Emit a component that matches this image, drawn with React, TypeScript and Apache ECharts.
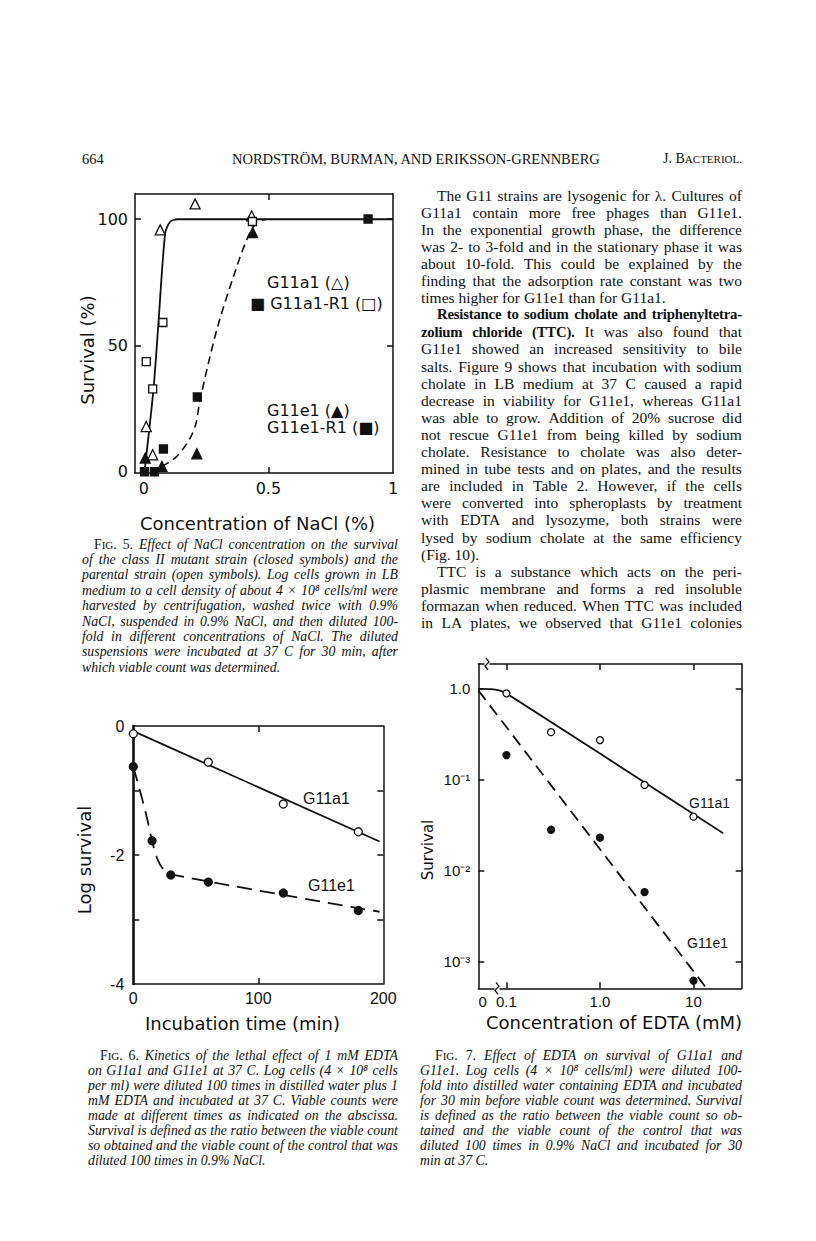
import React, { useEffect, useRef } from "react";
import * as echarts from "echarts";

// ---------------- DATA ----------------
// Fig. 5 : survival (%) vs NaCl concentration (%)
const fig5_G11a1_openTri: [number, number][] = [[0.01, 17.9], [0.036, 6.7], [0.066, 95.8], [0.206, 106.1], [0.433, 101.3]];
const fig5_G11a1R1_openSq: [number, number][] = [[0.01, 43.6], [0.036, 32.8], [0.077, 59.1], [0.436, 99.1]];
const fig5_G11e1_fillTri: [number, number][] = [[0.006, 5.4], [0.073, 2.1], [0.213, 7.1], [0.437, 94.7]];
const fig5_G11e1R1_fillSq: [number, number][] = [[0.003, 0], [0.043, 0], [0.079, 9.0], [0.215, 29.6], [0.9, 100.1]];
const fig5_curveParent: [number, number][] = [[0.003, 0], [0.039, 32.5], [0.059, 58.8], [0.086, 94.5], [0.106, 99], [0.135, 100], [1.0, 100]];
const fig5_curveMutant: [number, number][] = [[0.073, 2.1], [0.133, 6.1], [0.186, 13.3], [0.21, 19.3], [0.226, 28.5], [0.293, 56.2], [0.36, 77.3], [0.413, 91.8], [0.453, 98.7], [0.494, 100]];
const fig5_xLabels = [0, 0.5, 1];
const fig5_yLabels = [0, 50, 100];

// Fig. 6 : log survival vs incubation time (min)
const fig6_time_G11a1 = [0, 60, 120, 180];
const fig6_log_G11a1 = [-0.12, -0.56, -1.21, -1.64];
const fig6_time_G11e1 = [0, 15, 30, 60, 120, 180];
const fig6_log_G11e1 = [-0.63, -1.78, -2.31, -2.42, -2.59, -2.86];
const fig6_fit_G11a1: [number, number][] = [[0, -0.08], [197, -1.79]];
const fig6_fit_G11e1: [number, number][] = [[0, -0.63], [5, -0.98], [10, -1.35], [14.7, -1.75], [19, -2.05], [24, -2.22], [30, -2.3], [197, -2.88]];
const fig6_xLabels = [0, 100, 200];
const fig6_yLabels = [-4, -2, 0];

// Fig. 7 : survival vs EDTA concentration (mM), log-log
const fig7_edta = [0.1, 0.3, 1, 3, 10];
const fig7_surv_G11a1 = [0.88, 0.33, 0.27, 0.087, 0.039];
const fig7_surv_G11e1 = [0.185, 0.028, 0.023, 0.0058, 0.00062];
const fig7_curve_G11a1: [number, number][] = [[0.05, 0.985], [0.068, 0.98], [0.085, 0.945], [0.1, 0.88], [20.8, 0.0256]];
const fig7_curve_G11e1: [number, number][] = [[0.05, 0.95], [13.8, 0.00051]];
const fig7_xRange = [0.05, 32.8];
const fig7_yRange = [0.00051, 1.848];
const fig7_zeroPos = 0.0556; // where the broken axis puts "0"
const fig7_xTicks = [0.1, 1, 10];
const fig7_yTicks = [0.001, 0.01, 0.1, 1];

// ---------------- TEXT ----------------
const bodyLines = [
  "The G11 strains are lysogenic for λ. Cultures of",
  "G11a1 contain more free phages than G11e1.",
  "In the exponential growth phase, the difference",
  "was 2- to 3-fold and in the stationary phase it was",
  "about 10-fold. This could be explained by the",
  "finding that the adsorption rate constant was two",
  "times higher for G11e1 than for G11a1.",
  "Resistance to sodium cholate and triphenyltetra-",
  "zolium chloride (TTC). It was also found that",
  "G11e1 showed an increased sensitivity to bile",
  "salts. Figure 9 shows that incubation with sodium",
  "cholate in LB medium at 37 C caused a rapid",
  "decrease in viability for G11e1, whereas G11a1",
  "was able to grow. Addition of 20% sucrose did",
  "not rescue G11e1 from being killed by sodium",
  "cholate. Resistance to cholate was also deter-",
  "mined in tube tests and on plates, and the results",
  "are included in Table 2. However, if the cells",
  "were converted into spheroplasts by treatment",
  "with EDTA and lysozyme, both strains were",
  "lysed by sodium cholate at the same efficiency",
  "(Fig. 10).",
  "TTC is a substance which acts on the peri-",
  "plasmic membrane and forms a red insoluble",
  "formazan when reduced. When TTC was included",
  "in LA plates, we observed that G11e1 colonies",
];
const bodyIndent = [0, 7, 22];
const bodyLast = [6, 21];
const bodyBold: Record<number, number> = { 7: 99, 8: 3 };

const cap5 = [
  "FIG. 5. Effect of NaCl concentration on the survival",
  "of the class II mutant strain (closed symbols) and the",
  "parental strain (open symbols). Log cells grown in LB",
  "medium to a cell density of about 4 × 10⁸ cells/ml were",
  "harvested by centrifugation, washed twice with 0.9%",
  "NaCl, suspended in 0.9% NaCl, and then diluted 100-",
  "fold in different concentrations of NaCl. The diluted",
  "suspensions were incubated at 37 C for 30 min, after",
  "which viable count was determined.",
];
const cap6 = [
  "FIG. 6. Kinetics of the lethal effect of 1 mM EDTA",
  "on G11a1 and G11e1 at 37 C. Log cells (4 × 10⁸ cells",
  "per ml) were diluted 100 times in distilled water plus 1",
  "mM EDTA and incubated at 37 C. Viable counts were",
  "made at different times as indicated on the abscissa.",
  "Survival is defined as the ratio between the viable count",
  "so obtained and the viable count of the control that was",
  "diluted 100 times in 0.9% NaCl.",
];
const cap7 = [
  "FIG. 7. Effect of EDTA on survival of G11a1 and",
  "G11e1. Log cells (4 × 10⁸ cells/ml) were diluted 100-",
  "fold into distilled water containing EDTA and incubated",
  "for 30 min before viable count was determined. Survival",
  "is defined as the ratio between the viable count so ob-",
  "tained and the viable count of the control that was",
  "diluted 100 times in 0.9% NaCl and incubated for 30",
  "min at 37 C.",
];

// ---------------- STYLE ----------------
const INK = "#111111";
const SERIF = '"Liberation Serif", "Times New Roman", serif';
const SANS = '"DejaVu Sans", sans-serif';
const ARIAL = '"Liberation Sans", Arial, sans-serif';

const lg = (v: number) => Math.log10(v);

function xAx(grid: number, position: "top" | "bottom", min: number, max: number, ticks: number[], labels: number[] | null, fmt?: (v: number) => string, font?: { f: string; s: number; m: number }) {
  return {
    type: "value", gridIndex: grid, position, min, max,
    axisLine: { show: true, onZero: false, lineStyle: { color: INK, width: 1.5 } },
    axisTick: { show: ticks.length > 0, inside: true, length: 6, customValues: ticks, lineStyle: { color: INK, width: 1.5 } },
    axisLabel: labels
      ? { show: true, customValues: labels, formatter: fmt, fontFamily: font!.f, fontSize: font!.s, color: INK, margin: font!.m, showMinLabel: true, showMaxLabel: true }
      : { show: false },
    splitLine: { show: false },
  };
}
function yAx(grid: number, position: "left" | "right", min: number, max: number, ticks: number[], labels: number[] | null, fmt?: (v: number) => string, font?: { f: string; s: number; m: number }, lw = 1.5) {
  return {
    type: "value", gridIndex: grid, position, min, max,
    axisLine: { show: true, onZero: false, lineStyle: { color: INK, width: lw } },
    axisTick: { show: ticks.length > 0, inside: true, length: 6, customValues: ticks, lineStyle: { color: INK, width: 1.5 } },
    axisLabel: labels
      ? { show: true, customValues: labels, formatter: fmt, fontFamily: font!.f, fontSize: font!.s, color: INK, margin: font!.m, showMinLabel: true, showMaxLabel: true }
      : { show: false },
    splitLine: { show: false },
  };
}

function txt(text: string, x: number, y: number, font: string, align = "left", rot = 0) {
  return {
    type: "text", x, y, rotation: rot, silent: true, z: 20,
    style: { text, font, fill: INK, align, verticalAlign: "middle", textAlign: align, textVerticalAlign: "middle" },
  };
}
function brk(x: number, y: number) {
  return [
    { type: "rect", shape: { x: x - 2.5, y: y - 2, width: 5, height: 4 }, style: { fill: "#fff" }, silent: true, z: 15 },
    { type: "polyline", shape: { points: [[x - 1, y - 6], [x + 2, y - 2], [x - 2, y + 2], [x + 1, y + 6]] }, style: { stroke: INK, lineWidth: 1.3, fill: "none" }, silent: true, z: 16 },
  ];
}

function supMinus(n: number) {
  const m: Record<string, string> = { "1": "¹", "2": "²", "3": "³" };
  return "⁻" + m[String(Math.abs(n))];
}

function buildOption() {
  const f5 = { f: SANS, s: 16, m: 7 };
  const f6 = { f: ARIAL, s: 16, m: 6 };
  const f7 = { f: ARIAL, s: 15, m: 6 };
  const lineBase = { type: "line", symbol: "none", showSymbol: false, z: 2, silent: true };
  const sc = (xi: number, data: number[][], symbol: string, size: number, filled: boolean) => ({
    type: "scatter", xAxisIndex: xi, yAxisIndex: xi, data, symbol, symbolSize: size, clip: false, z: 5, silent: true,
    itemStyle: { color: filled ? INK : "#fff", borderColor: INK, borderWidth: 1.3, opacity: 1 },
  });

  return {
    animation: false,
    backgroundColor: "transparent",
    grid: [
      { left: 135, top: 194, width: 258, height: 279, containLabel: false, outerBoundsMode: "none" },
      { left: 133.3, top: 726, width: 250, height: 258, containLabel: false, outerBoundsMode: "none" },
      { left: 478.3, top: 664, width: 263.4, height: 324.3, containLabel: false, outerBoundsMode: "none" },
    ],
    xAxis: [
      xAx(0, "bottom", -0.035, 1, [0.5], fig5_xLabels, (v) => String(v), f5),
      xAx(0, "top", -0.035, 1, [0.5], null),
      xAx(1, "bottom", 0, 200, [100], fig6_xLabels, (v) => String(v), f6),
      xAx(1, "top", 0, 200, [100], null),
      xAx(2, "bottom", lg(fig7_xRange[0]), lg(fig7_xRange[1]), fig7_xTicks.map(lg), [lg(fig7_zeroPos), ...fig7_xTicks.map(lg)],
        (v) => (Math.abs(v - lg(fig7_zeroPos)) < 1e-3 ? "0" : Math.abs(v + 1) < 1e-6 ? "0.1" : Math.abs(v) < 1e-6 ? "1.0" : "10"), f7),
      xAx(2, "top", lg(fig7_xRange[0]), lg(fig7_xRange[1]), fig7_xTicks.map(lg), null),
    ],
    yAxis: [
      yAx(0, "left", -0.5, 110, [50, 100], fig5_yLabels, (v) => String(v), f5),
      yAx(0, "right", -0.5, 110, [50, 100], null),
      yAx(1, "left", -4, 0, [-3, -2, -1], fig6_yLabels, (v) => (v === 0 ? "0" : "-" + Math.abs(v)), { f: ARIAL, s: 16, m: 9 }, 2.6),
      yAx(1, "right", -4, 0, [-3, -2, -1], null),
      yAx(2, "left", lg(fig7_yRange[0]), lg(fig7_yRange[1]), fig7_yTicks.map(lg), fig7_yTicks.map(lg),
        (v) => (Math.abs(v) < 1e-6 ? "1.0" : "10" + supMinus(Math.round(v))), { f: ARIAL, s: 15, m: 8 }),
      yAx(2, "right", lg(fig7_yRange[0]), lg(fig7_yRange[1]), fig7_yTicks.map(lg), null),
    ],
    series: [
      // Fig 5
      { ...lineBase, name: "parent curve", xAxisIndex: 0, yAxisIndex: 0, smooth: 0.25, data: fig5_curveParent, lineStyle: { color: INK, width: 1.8 } },
      { ...lineBase, name: "mutant curve", xAxisIndex: 0, yAxisIndex: 0, smooth: 0.3, data: fig5_curveMutant, lineStyle: { color: INK, width: 1.6, type: [8, 5] } },
      { ...sc(0, fig5_G11a1_openTri, "triangle", 10, false), name: "G11a1 (△)" },
      { ...sc(0, fig5_G11a1R1_openSq, "rect", 8, false), name: "G11a1-R1 (□)" },
      { ...sc(0, fig5_G11e1_fillTri, "triangle", 10, true), name: "G11e1 (▲)" },
      { ...sc(0, fig5_G11e1R1_fillSq, "rect", 8, true), name: "G11e1-R1 (■)" },
      // Fig 6
      { ...lineBase, name: "G11a1 fit", xAxisIndex: 2, yAxisIndex: 2, data: fig6_fit_G11a1, lineStyle: { color: INK, width: 1.8 } },
      { ...lineBase, name: "G11e1 fit", xAxisIndex: 2, yAxisIndex: 2, smooth: 0.3, data: fig6_fit_G11e1, lineStyle: { color: INK, width: 1.8, type: [15, 8] } },
      { ...sc(2, fig6_time_G11a1.map((t, i) => [t, fig6_log_G11a1[i]]), "circle", 8, false), name: "G11a1" },
      { ...sc(2, fig6_time_G11e1.map((t, i) => [t, fig6_log_G11e1[i]]), "circle", 8, true), name: "G11e1" },
      // Fig 7
      { ...lineBase, name: "G11a1 curve", xAxisIndex: 4, yAxisIndex: 4, smooth: 0.3, data: fig7_curve_G11a1.map(([x, y]) => [lg(x), lg(y)]), lineStyle: { color: INK, width: 1.8 } },
      { ...lineBase, name: "G11e1 line", xAxisIndex: 4, yAxisIndex: 4, data: fig7_curve_G11e1.map(([x, y]) => [lg(x), lg(y)]), lineStyle: { color: INK, width: 1.8, type: [12, 7] } },
      { ...sc(4, fig7_edta.map((x, i) => [lg(x), lg(fig7_surv_G11a1[i])]), "circle", 7, false), name: "G11a1 EDTA" },
      { ...sc(4, fig7_edta.map((x, i) => [lg(x), lg(fig7_surv_G11e1[i])]), "circle", 7, true), name: "G11e1 EDTA" },
    ],
    graphic: [
      // Fig 5 legend & titles
      txt("G11a1 (△)", 267, 282, `16px ${SANS}`),
      txt("■ G11a1-R1 (□)", 250, 303, `16px ${SANS}`),
      txt("G11e1 (▲)", 267, 410, `16px ${SANS}`),
      txt("G11e1-R1 (■)", 267, 427, `16px ${SANS}`),
      txt("Concentration of NaCl (%)", 257.5, 523, `18px ${SANS}`, "center"),
      txt("Survival (%)", 87, 350, `18px ${SANS}`, "center", Math.PI / 2),
      // Fig 6
      txt("G11a1", 303, 798, `16px ${ARIAL}`),
      txt("G11e1", 308, 885, `16px ${ARIAL}`),
      txt("Incubation time (min)", 242.5, 1023, `18px ${SANS}`, "center"),
      txt("Log survival", 84, 860, `18px ${SANS}`, "center", Math.PI / 2),
      // Fig 7
      txt("G11a1", 689, 803, `14px ${ARIAL}`),
      txt("G11e1", 687, 943, `14px ${ARIAL}`),
      txt("Concentration of EDTA (mM)", 614, 1022, `18px ${SANS}`, "center"),
      txt("Survival", 428, 850, `15px ${SANS}`, "center", Math.PI / 2),
      ...brk(487, 664),
      ...brk(497, 988.3),
    ],
  };
}

// ---------------- TEXT RENDERING ----------------
function Word({ w, bold, upright }: { w: string; bold?: boolean; upright?: boolean }) {
  if (w === "FIG.") {
    return (
      <span style={{ fontStyle: "normal" }}>
        F<span style={{ fontSize: "0.8em" }}>IG</span>.{" "}
      </span>
    );
  }
  return (
    <span style={{ fontWeight: bold ? "bold" : "normal", fontStyle: upright ? "normal" : undefined, letterSpacing: bold ? "-0.2px" : undefined, fontSize: bold ? "0.95em" : undefined }}>
      {w}{" "}
    </span>
  );
}

function TextLine(props: { text: string; x: number; y: number; w: number; size: number; lh: number; italic?: boolean; indent?: number; last?: boolean; bold?: number }) {
  const { text, x, y, w, size, lh, italic, indent = 0, last, bold = 0 } = props;
  const words = text.split(" ");
  const figLine = words[0] === "FIG.";
  return (
    <div
      style={{
        position: "absolute", left: x + indent, top: y - lh / 2, width: w - indent, height: lh, lineHeight: lh + "px",
        display: "flex", flexWrap: "nowrap", justifyContent: last ? "flex-start" : "space-between", columnGap: last ? "0.25em" : "0.15em",
        alignItems: "baseline",
        whiteSpace: "nowrap", fontFamily: SERIF, fontSize: size, fontStyle: italic ? "italic" : "normal", color: INK,
      }}
    >
      {words.map((wd, i) => (
        <Word key={i} w={wd} bold={i < bold} upright={figLine && i === 1} />
      ))}
    </div>
  );
}

function Block(props: { lines: string[]; x: number; w: number; y0: number; step: number; size: number; lh: number; italic?: boolean; indentLines: number[]; lastLines: number[]; indent: number; bold?: Record<number, number> }) {
  const { lines, x, w, y0, step, size, lh, italic, indentLines, lastLines, indent, bold = {} } = props;
  return (
    <>
      {lines.map((t, i) => (
        <TextLine key={i} text={t} x={x} y={y0 + step * i} w={w} size={size} lh={lh} italic={italic}
          indent={indentLines.includes(i) ? indent : 0} last={lastLines.includes(i)} bold={bold[i] || 0} />
      ))}
    </>
  );
}

export default function App() {
  const ref = useRef<HTMLDivElement>(null);
  useEffect(() => {
    const chart = echarts.init(ref.current!, null, { renderer: "svg", width: 816, height: 1241 });
    chart.setOption(buildOption() as any);
    return () => chart.dispose();
  }, []);
  return (
    <div style={{ position: "absolute", left: 0, top: 0, width: 816, height: 1241, background: "#fff", overflow: "hidden" }}>
      <div ref={ref} style={{ position: "absolute", left: 0, top: 0, width: 816, height: 1241 }} />
      {/* running head */}
      <div style={{ position: "absolute", left: 82, top: 150, fontFamily: SERIF, fontSize: 14.5, lineHeight: "18px", color: INK }}>664</div>
      <div style={{ position: "absolute", left: 232, top: 150, fontFamily: SERIF, fontSize: 14.5, lineHeight: "18px", color: INK, whiteSpace: "nowrap" }}>
        NORDSTRÖM, BURMAN, AND ERIKSSON-GRENNBERG
      </div>
      <div style={{ position: "absolute", right: 816 - 742, top: 150, fontFamily: SERIF, fontSize: 14, lineHeight: "18px", color: INK, whiteSpace: "nowrap" }}>
        J. B<span style={{ fontSize: 11 }}>ACTERIOL.</span>
      </div>
      {/* right column body */}
      <Block lines={bodyLines} x={421} w={321} y0={195} step={17.1} size={15.5} lh={17} indentLines={bodyIndent} lastLines={bodyLast} indent={16} bold={bodyBold} />
      {/* captions */}
      <Block lines={cap5} x={82} w={316} y0={544} step={15.4} size={13.8} lh={15} italic indentLines={[0]} lastLines={[8]} indent={12} />
      <Block lines={cap6} x={88} w={310} y0={1055} step={15} size={13.8} lh={15} italic indentLines={[0]} lastLines={[7]} indent={12} />
      <Block lines={cap7} x={420} w={322} y0={1055.7} step={15} size={13.8} lh={15} italic indentLines={[0]} lastLines={[7]} indent={15} />
    </div>
  );
}
